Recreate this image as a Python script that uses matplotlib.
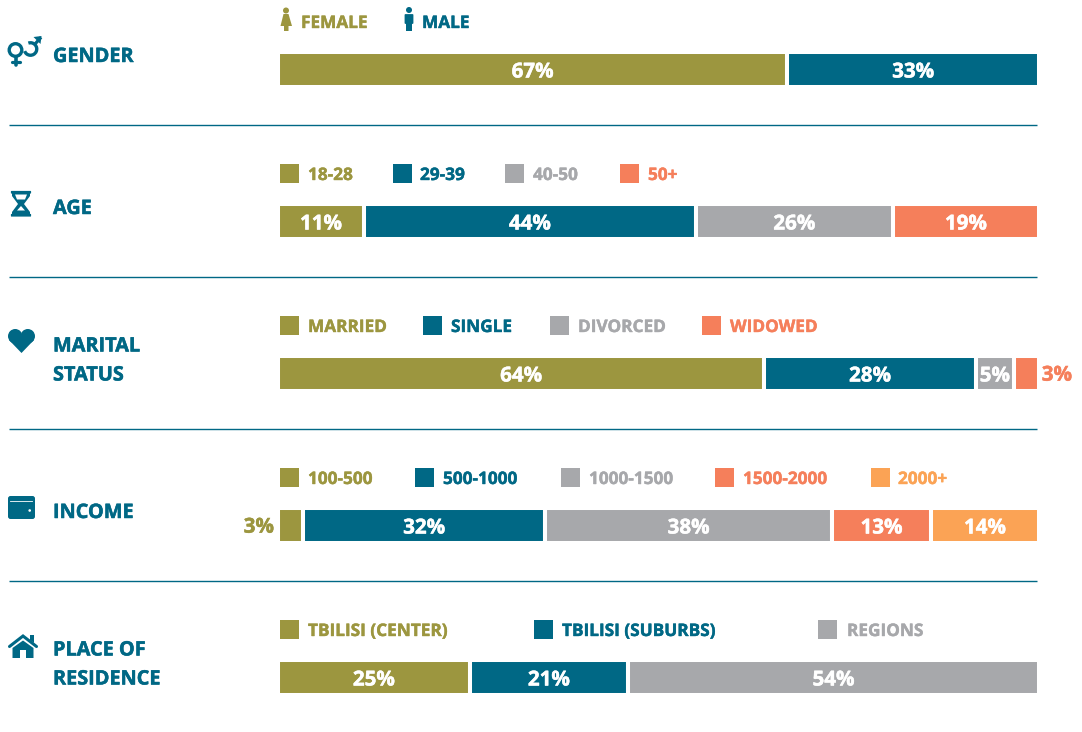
import matplotlib
matplotlib.use('Agg')
import matplotlib.pyplot as plt
import matplotlib.patheffects as pe
from matplotlib.patches import Circle, Rectangle, Polygon, FancyBboxPatch, Arc

plt.rcParams['font.family'] = ['Open Sans', 'DejaVu Sans']

OLIVE = '#9C963F'
TEAL = '#006885'
GRAY = '#A7A8AB'
CORAL = '#F57F5B'
ORANGE = '#FBA355'
colors = [OLIVE, TEAL, GRAY, CORAL, ORANGE]

# the data
gender_names = ['FEMALE', 'MALE']
gender_vals = [66.9, 33.1]
age_names = ['18-28', '29-39', '40-50', '50+']
age_vals = [11.3, 43.6, 25.9, 19.2]
marital_names = ['MARRIED', 'SINGLE', 'DIVORCED', 'WIDOWED']
marital_vals = [63.9, 27.8, 5.0, 3.3]
income_names = ['100-500', '500-1000', '1000-1500', '1500-2000', '2000+']
income_vals = [3.3, 31.8, 37.7, 13.0, 14.2]
place_names = ['TBILISI (CENTER)', 'TBILISI (SUBURBS)', 'REGIONS']
place_vals = [25.2, 20.8, 54.0]

titles = ['GENDER', 'AGE', 'MARITAL\nSTATUS', 'INCOME', 'PLACE OF\nRESIDENCE']
all_vals = [gender_vals, age_vals, marital_vals, income_vals, place_vals]
all_names = [gender_names, age_names, marital_names, income_names, place_names]

# layout, in pixels
W, H = 1082, 732
row_h = 152
first_bar = 69.5
square_x = [None,
            [280, 393, 505, 620],
            [280, 423, 550, 702],
            [280, 415, 561, 715, 871],
            [280, 534, 818]]
label_x = [[301, 422],
           [308, 420, 533, 648],
           [308, 451, 578, 730],
           [308, 443, 589, 743, 898],
           [308, 562, 847]]
title_y = [54, 206, 358, 510, 662]


def bolder(color, w=0.35):
    # open sans bold is a bit lighter than the original font
    return [pe.withStroke(linewidth=w, foreground=color)]


fig = plt.figure(figsize=(W / 100, H / 100), dpi=100)

# bars, x in percent. white edges make the gaps, so the axes is 2px wider each side
left_px, right_px = 278, 1039
ax = fig.add_axes([left_px / W, 0, (right_px - left_px) / W, 1])
ax.set_xlim(0, 100)
ax.set_ylim((H - first_bar) / row_h, -first_bar / row_h)
ax.axis('off')

for row, vals in enumerate(all_vals):
    left = 0
    for i, v in enumerate(vals):
        ax.barh(row, v, left=left, height=35 / row_h, color=colors[i],
                edgecolor='white', linewidth=2.9)
        if v < 4:
            # too small, label goes outside the bar
            if left == 0:
                ax.annotate(f'{v:.0f}%', (left, row), xytext=(-3, -1.2), textcoords='offset points',
                            ha='right', va='center', color=colors[i], fontsize=14.8, fontweight='bold',
                            annotation_clip=False, path_effects=bolder(colors[i]))
            else:
                ax.annotate(f'{v:.0f}%', (left + v, row), xytext=(2, -1.2), textcoords='offset points',
                            ha='left', va='center', color=colors[i], fontsize=14.8, fontweight='bold',
                            annotation_clip=False, path_effects=bolder(colors[i]))
        else:
            ax.text(left + v / 2, row + 2.5 / row_h, f'{v:.0f}%', ha='center', va='center',
                    color='white', fontsize=14.8, fontweight='bold', path_effects=bolder('white'))
        left += v

# everything else in pixel coords
px = fig.add_axes([0, 0, 1, 1])
px.set_xlim(0, W)
px.set_ylim(H, 0)
px.axis('off')
px.patch.set_alpha(0)

for y in [125, 277, 429, 581]:
    px.plot([8.5, 1037], [y, y], color=TEAL, lw=1.0, solid_capstyle='butt')

for row, title in enumerate(titles):
    n_lines = title.count('\n') + 1
    px.text(53, title_y[row] + 3, title, color=TEAL, fontsize=14.3, fontweight='bold',
            va='center', ha='left', linespacing=1.6, path_effects=bolder(TEAL))
    legend_y = 21 + 152 * row
    for i, name in enumerate(all_names[row]):
        px.text(label_x[row][i], legend_y + 2, name, color=colors[i], fontsize=12.4, fontweight='bold',
                va='center', ha='left', path_effects=bolder(colors[i], 0.3))
        if square_x[row] is not None:
            px.add_patch(Rectangle((square_x[row][i], legend_y - 9), 19, 19, color=colors[i], lw=0))

# legend people
px.add_patch(Circle((286, 10.5), 3, color=OLIVE, lw=0))
px.add_patch(Polygon([(283.5, 14), (288.5, 14), (292, 26), (288.5, 26), (288.5, 31), (284, 31), (284, 26), (280.5, 26)],
                     color=OLIVE, lw=0))
px.add_patch(Circle((409, 10), 3, color=TEAL, lw=0))
px.add_patch(FancyBboxPatch((405.5, 15), 7, 8, boxstyle='round,pad=0.9', color=TEAL, lw=0))
px.add_patch(Rectangle((406, 22), 6, 9, color=TEAL, lw=0))

# gender icon
px.add_patch(Circle((15.5, 50), 6.3, fill=False, edgecolor=TEAL, lw=2.4))
px.plot([15.5, 15.5], [57, 64.5], color=TEAL, lw=2.6, solid_capstyle='round')
px.plot([12, 20], [61.5, 61.5], color=TEAL, lw=2.3, solid_capstyle='round')
px.add_patch(Arc((30.5, 49), 12.5, 12.5, theta1=-110, theta2=160, edgecolor=TEAL, lw=2.4))
px.plot([35, 40], [44, 38.5], color=TEAL, lw=2.3)
px.add_patch(Polygon([(33.5, 37), (41.5, 36), (40.5, 44)], color=TEAL, lw=0))

# hourglass
px.add_patch(FancyBboxPatch((11.5, 191.5), 19, 1.5, boxstyle='round,pad=0.6', color=TEAL, lw=0))
px.add_patch(FancyBboxPatch((11.5, 214.5), 19, 1.5, boxstyle='round,pad=0.6', color=TEAL, lw=0))
px.add_patch(Polygon([(12, 192), (30, 192), (30, 196), (24, 204), (30, 212), (30, 215), (12, 215), (12, 212), (18, 204), (12, 196)],
                     color=TEAL, lw=0))
px.add_patch(Polygon([(15, 194.5), (27, 194.5), (25, 199.5), (17, 199.5)], color='white', lw=0))
px.add_patch(Polygon([(21, 206), (25, 210.5), (17, 210.5)], color='white', lw=0))

# heart
px.add_patch(Circle((15.2, 336.2), 7.2, color=TEAL, lw=0))
px.add_patch(Circle((27.8, 336.2), 7.2, color=TEAL, lw=0))
px.add_patch(Polygon([(9, 340), (21.5, 353), (34, 340), (31, 334), (21.5, 334), (12, 334)], color=TEAL, lw=0))

# wallet
px.add_patch(FancyBboxPatch((10.5, 498.5), 22, 18, boxstyle='round,pad=2.5', color=TEAL, lw=0))
px.plot([10, 32], [500.5, 500.5], color='white', lw=0.6)
px.add_patch(Circle((29.7, 510.5), 1.3, color='white', lw=0))

# house
px.plot([9.5, 23, 36.5], [646.5, 636, 646.5], color=TEAL, lw=2.2, solid_capstyle='round', solid_joinstyle='miter')
px.add_patch(Polygon([(30, 635), (34, 635), (34, 643), (30, 640)], color=TEAL, lw=0))
px.add_patch(Polygon([(23, 640.5), (33.5, 648), (33.5, 658), (26, 658), (26, 650), (20, 650), (20, 658), (12.5, 658), (12.5, 648)],
                     color=TEAL, lw=0))

fig.savefig('out.png', dpi=100, facecolor='white')
